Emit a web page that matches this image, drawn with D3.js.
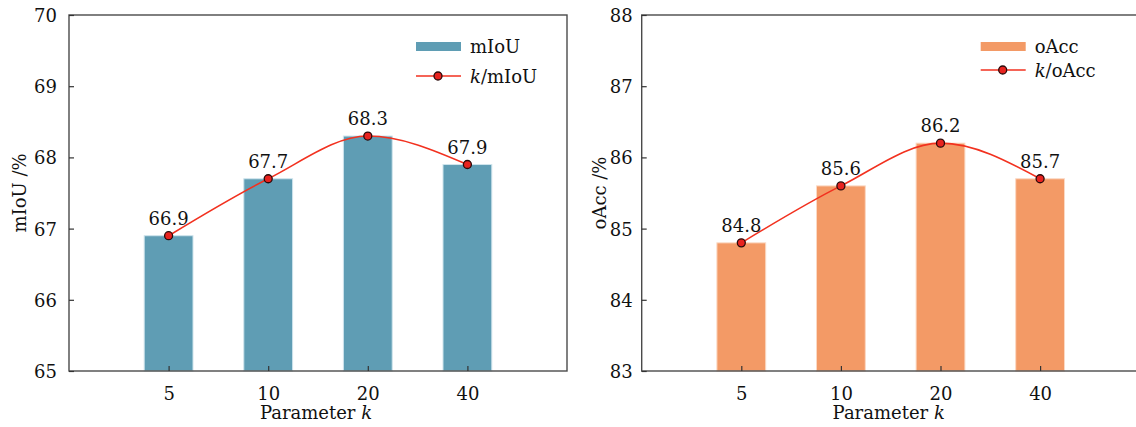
<!DOCTYPE html>
<html>
<head>
<meta charset="utf-8">
<script src="https://cdn.jsdelivr.net/npm/d3@7"></script>
<style>
  body { margin: 0; background: #fff; }
  svg text { font-family: "DejaVu Serif", serif; fill: #111; }
</style>
</head>
<body>
<div id="chart"></div>
<script>
// data
const params = ["5", "10", "20", "40"];
const miouValues = [66.9, 67.7, 68.3, 67.9];
const oaccValues = [84.8, 85.6, 86.2, 85.7];
const miouTicks = [65, 66, 67, 68, 69, 70];
const oaccTicks = [83, 84, 85, 86, 87, 88];

const W = 1136, H = 427;
const FONT = "'DejaVu Serif', serif";
const svg = d3.select("#chart").append("svg")
  .attr("width", W)
  .attr("height", H);

function drawPanel(opts) {
  const left = opts.left, top = 15, bottom = 371;
  const step = 99.6;
  const right = left + step * 5;

  const g = svg.append("g");

  const x = d3.scalePoint()
    .domain(params)
    .range([left + step, left + step * 4]);

  const y = d3.scaleLinear()
    .domain(d3.extent(opts.ticks))
    .range([bottom, top]);

  const barW = step * 0.49;

  // bars
  g.selectAll("rect.bar")
    .data(opts.values)
    .enter()
    .append("rect")
    .attr("class", "bar")
    .attr("x", (d, i) => x(params[i]) - barW / 2)
    .attr("y", d => y(d))
    .attr("width", barW)
    .attr("height", d => bottom - y(d))
    .attr("fill", opts.color)
    .attr("stroke", opts.edge)
    .attr("stroke-width", 1);

  // frame
  g.append("rect")
    .attr("x", left)
    .attr("y", top)
    .attr("width", right - left)
    .attr("height", bottom - top)
    .attr("fill", "none")
    .attr("stroke", "#4a4a4a")
    .attr("stroke-width", 1.4);

  // axes, ticks pointing inward
  const xAxis = g.append("g")
    .attr("transform", `translate(0,${bottom})`)
    .call(d3.axisBottom(x).tickSizeInner(-5).tickSizeOuter(0));
  xAxis.attr("font-family", null);
  xAxis.select(".domain").remove();
  xAxis.selectAll("line").attr("stroke", "#333").attr("stroke-width", 1.2);
  xAxis.selectAll("text")
    .attr("y", 29)
    .attr("dy", null)
    .style("font-family", FONT)
    .style("font-size", "18px")
    .attr("fill", "#111");

  const yAxis = g.append("g")
    .attr("transform", `translate(${left},0)`)
    .call(d3.axisLeft(y).tickValues(opts.ticks).tickSizeInner(-5).tickSizeOuter(0).tickFormat(d3.format("d")));
  yAxis.attr("font-family", null);
  yAxis.select(".domain").remove();
  yAxis.selectAll("line").attr("stroke", "#333").attr("stroke-width", 1.2);
  yAxis.selectAll("text")
    .attr("x", -opts.tickGap)
    .attr("dy", "0.36em")
    .style("font-family", FONT)
    .style("font-size", "18px")
    .attr("fill", "#111");

  // axis titles
  const xt = g.append("text")
    .attr("x", (left + right) / 2 - 2)
    .attr("y", 419)
    .attr("text-anchor", "middle")
    .style("font-size", "18px");
  xt.append("tspan").text("Parameter ");
  xt.append("tspan").style("font-style", "italic").text("k");

  g.append("text")
    .attr("transform", `translate(${opts.ylabelX},${(top + bottom) / 2}) rotate(-90)`)
    .attr("text-anchor", "middle")
    .attr("dy", "0.35em")
    .style("font-size", "18px")
    .text(opts.ylabel);

  // smooth line with markers
  const line = d3.line()
    .x((d, i) => x(params[i]))
    .y(d => y(d))
    .curve(d3.curveMonotoneX);

  g.append("path")
    .datum(opts.values)
    .attr("d", line)
    .attr("fill", "none")
    .attr("stroke", "#f2311f")
    .attr("stroke-width", 1.6);

  g.selectAll("circle.pt")
    .data(opts.values)
    .enter()
    .append("circle")
    .attr("class", "pt")
    .attr("cx", (d, i) => x(params[i]))
    .attr("cy", d => y(d))
    .attr("r", 4)
    .attr("fill", "#e8231f")
    .attr("stroke", "#2a0a0a")
    .attr("stroke-width", 1.3);

  g.selectAll("text.val")
    .data(opts.values)
    .enter()
    .append("text")
    .attr("class", "val")
    .attr("x", (d, i) => x(params[i]))
    .attr("y", d => y(d) - 11)
    .attr("text-anchor", "middle")
    .style("font-size", "18px")
    .text(d => d.toFixed(1));

  // legend
  const lx = left + opts.legendDx;
  g.append("rect")
    .attr("x", lx)
    .attr("y", 42)
    .attr("width", 45)
    .attr("height", 9)
    .attr("fill", opts.color);
  g.append("text")
    .attr("x", lx + 54)
    .attr("y", 53)
    .style("font-size", "18px")
    .text(opts.name);

  g.append("line")
    .attr("x1", lx)
    .attr("x2", lx + 45)
    .attr("y1", opts.legendLineY)
    .attr("y2", opts.legendLineY)
    .attr("stroke", "#f2311f")
    .attr("stroke-width", 1.6);
  g.append("circle")
    .attr("cx", lx + 22)
    .attr("cy", opts.legendLineY)
    .attr("r", 4)
    .attr("fill", "#e8231f")
    .attr("stroke", "#2a0a0a")
    .attr("stroke-width", 1.3);
  const lt = g.append("text")
    .attr("x", lx + 54)
    .attr("y", opts.legendLineY + 7)
    .style("font-size", "18px");
  lt.append("tspan").style("font-style", "italic").text("k");
  lt.append("tspan").text("/" + opts.name);
}

drawPanel({
  left: 69,
  values: miouValues,
  ticks: miouTicks,
  color: "#5f9db4",
  edge: "#cfe4ec",
  name: "mIoU",
  ylabel: "mIoU /%",
  ylabelX: 20,
  tickGap: 12,
  legendDx: 347,
  legendLineY: 76
});

drawPanel({
  left: 641.7,
  values: oaccValues,
  ticks: oaccTicks,
  color: "#f39a66",
  edge: "#fbd9c4",
  name: "oAcc",
  ylabel: "oAcc /%",
  ylabelX: 600,
  tickGap: 9,
  legendDx: 339,
  legendLineY: 70
});
</script>
</body>
</html>
